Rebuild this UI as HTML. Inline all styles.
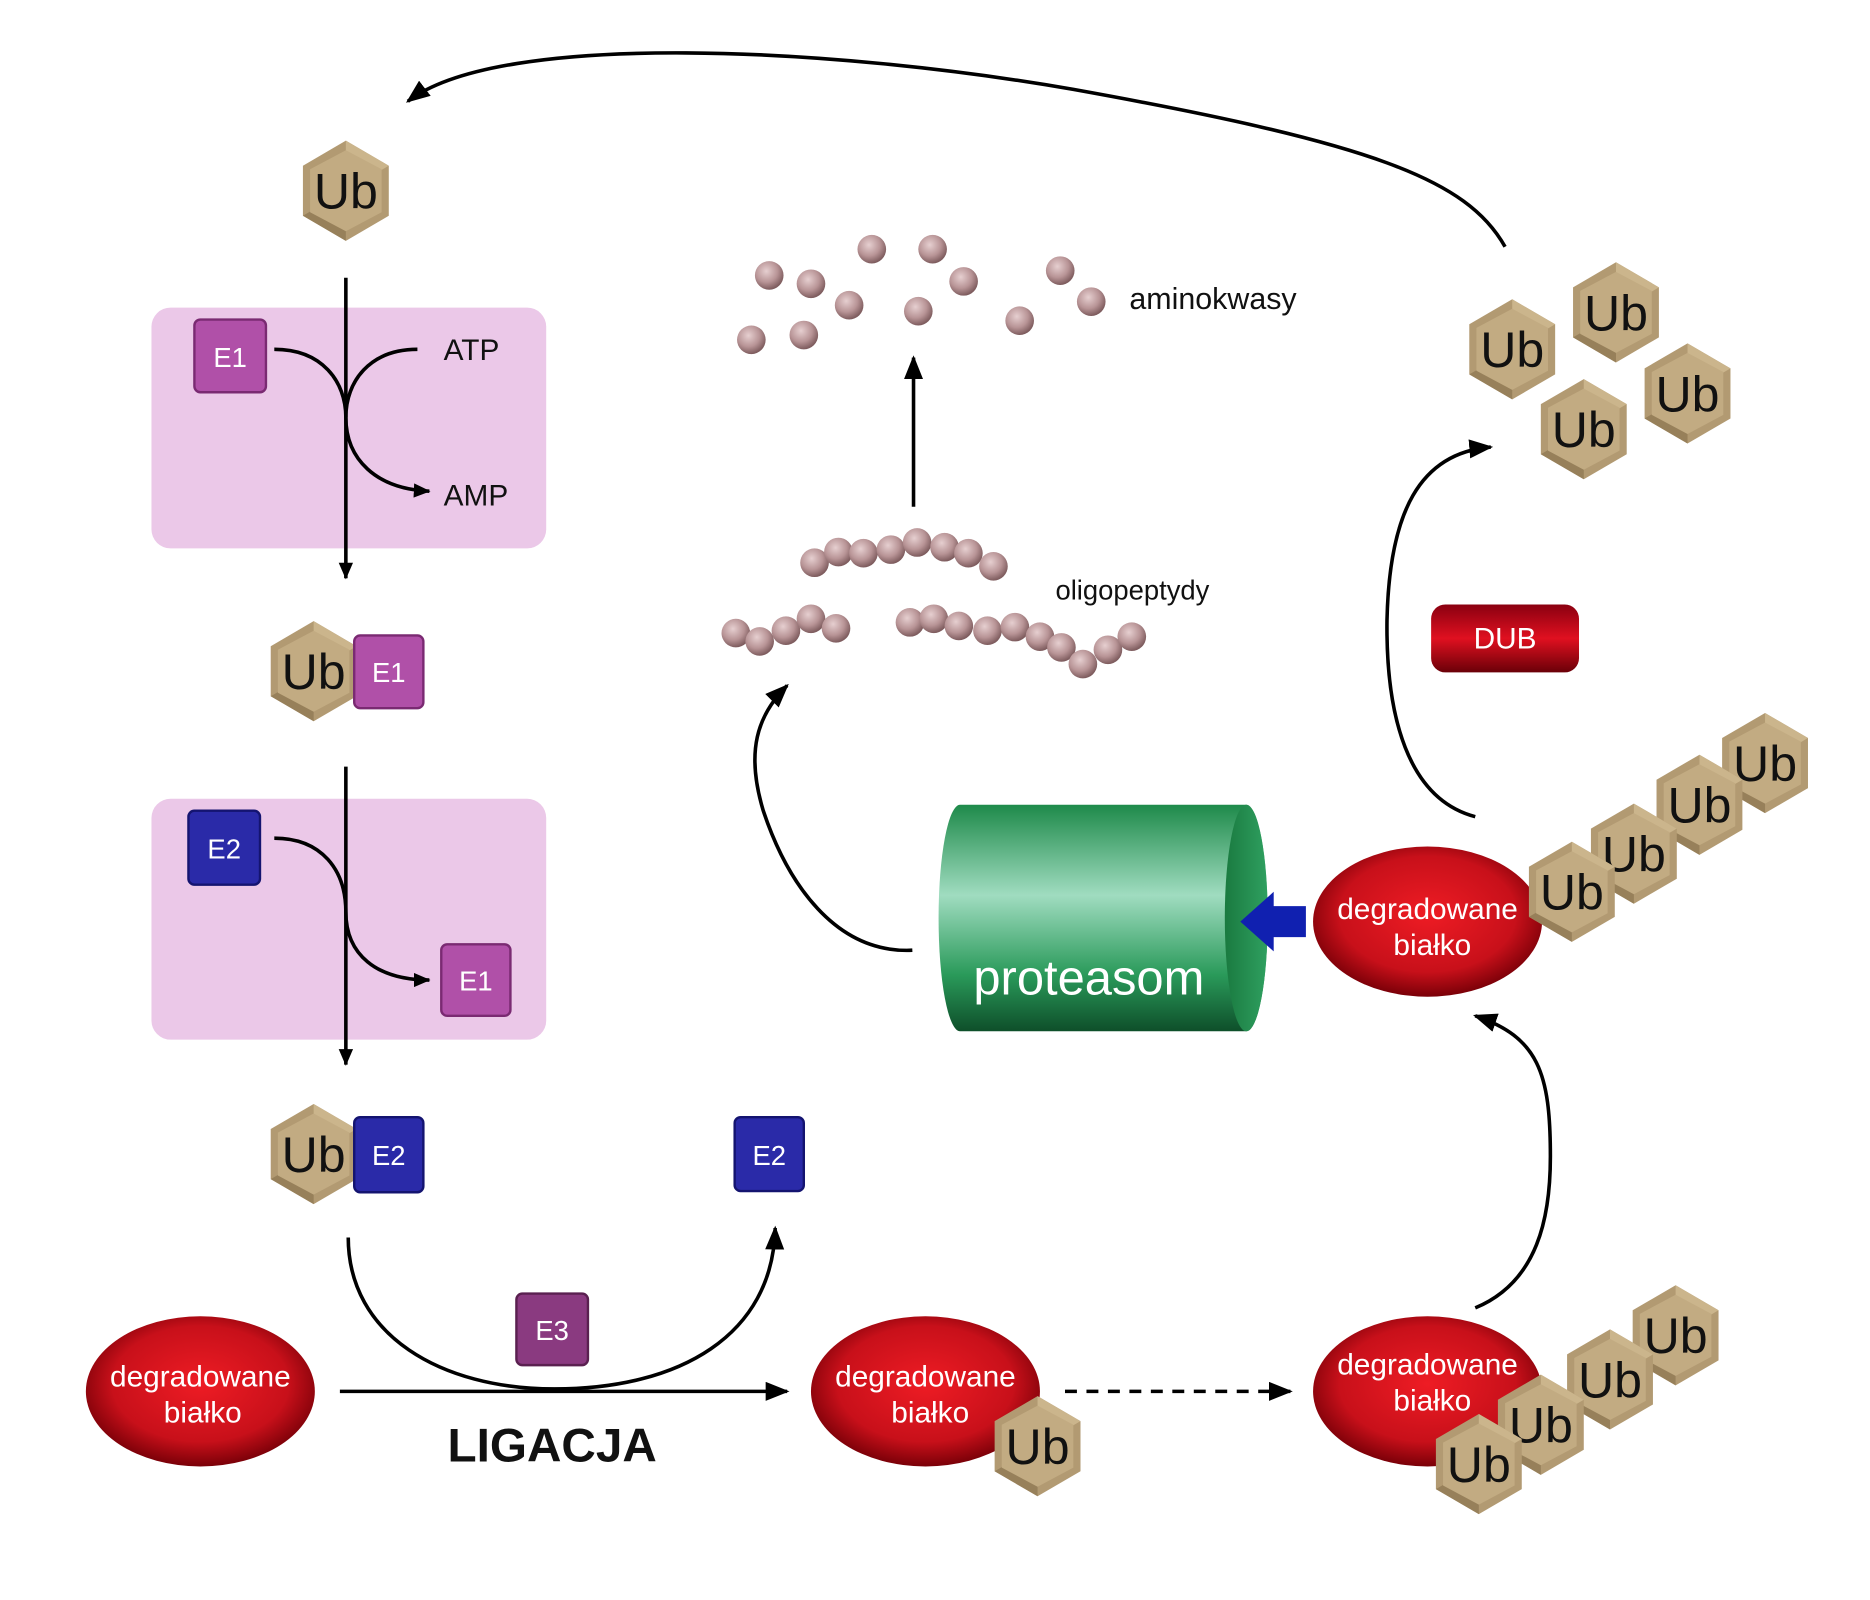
<!DOCTYPE html>
<html><head><meta charset="utf-8"><style>
html,body{margin:0;padding:0;background:#fff;}
svg{display:block;}
text{font-family:"Liberation Sans",sans-serif;}
</style></head><body>
<svg width="1870" height="1600" viewBox="0 0 1568 1342" preserveAspectRatio="none" xmlns="http://www.w3.org/2000/svg">
<defs>
<marker id="ah" markerWidth="14" markerHeight="12" refX="13" refY="6" orient="auto" markerUnits="userSpaceOnUse" viewBox="0 0 14 12">
<path d="M0,0 L14,6 L0,12 z" fill="#000"/></marker>
<marker id="ah2" markerWidth="20" markerHeight="16" refX="18" refY="8" orient="auto" markerUnits="userSpaceOnUse" viewBox="0 0 20 16">
<path d="M0,0 L20,8 L0,16 z" fill="#000"/></marker>
<radialGradient id="red" cx="50%" cy="45%" r="55%"><stop offset="0" stop-color="#ee1c24"/><stop offset="0.7" stop-color="#c8101a"/><stop offset="1" stop-color="#7a0008"/></radialGradient>
<radialGradient id="bead" cx="40%" cy="35%" r="65%"><stop offset="0" stop-color="#e6cfd0"/><stop offset="0.6" stop-color="#b89496"/><stop offset="1" stop-color="#7e5c5e"/></radialGradient>
<linearGradient id="cyl" x1="0" y1="0" x2="0" y2="1"><stop offset="0" stop-color="#1e8a4a"/><stop offset="0.4" stop-color="#a0dcc0"/><stop offset="0.75" stop-color="#2a9a5a"/><stop offset="1" stop-color="#0e4f2a"/></linearGradient>
<linearGradient id="cap" x1="0" y1="0" x2="1" y2="0"><stop offset="0" stop-color="#1a7a40"/><stop offset="1" stop-color="#2fa060"/></linearGradient>
<linearGradient id="dub" x1="0" y1="0" x2="0" y2="1"><stop offset="0" stop-color="#8a0010"/><stop offset="0.5" stop-color="#e01020"/><stop offset="1" stop-color="#6a0008"/></linearGradient>
<g id="ub">
<polygon points="0,-42 36,-21 36,21 0,42 -36,21 -36,-21" fill="#b29a72"/>
<polygon points="0,-42 36,-21 0,0" fill="#cbb58c"/>
<polygon points="-36,21 0,42 0,0" fill="#97805a"/>
<polygon points="-30,-18 0,-34 30,-18 30,18 0,34 -30,18" fill="#c2ab82"/>
<text x="0" y="15" font-size="42" text-anchor="middle" fill="#111">Ub</text>
</g>
</defs>

<rect x="127" y="258" width="331" height="202" rx="16" fill="#ebc8e8"/>
<rect x="127" y="670" width="331" height="202" rx="16" fill="#ebc8e8"/>

<use href="#ub" x="290" y="160"/>

<rect x="163" y="268" width="60" height="61" rx="5" fill="#b050a8" stroke="#7a2a72" stroke-width="2"/>
<text x="193" y="308" font-size="23" fill="#fff" text-anchor="middle">E1</text>
<line x1="290" y1="233" x2="290" y2="485" stroke="#000" stroke-width="3" marker-end="url(#ah)"/>
<path d="M230,293 C270,293 290,320 290,350" fill="none" stroke="#000" stroke-width="3"/>
<path d="M350,293 C310,293 290,320 290,350 C290,385 315,410 360,412" fill="none" stroke="#000" stroke-width="3" marker-end="url(#ah)"/>
<text x="372" y="302" font-size="25" fill="#111">ATP</text>
<text x="372" y="424" font-size="25" fill="#111">AMP</text>

<use href="#ub" x="263" y="563"/>
<rect x="297" y="533" width="58" height="61" rx="5" fill="#b050a8" stroke="#7a2a72" stroke-width="2"/>
<text x="326" y="572" font-size="23" fill="#fff" text-anchor="middle">E1</text>

<rect x="158" y="680" width="60" height="62" rx="5" fill="#2a2aa8" stroke="#141470" stroke-width="2"/>
<text x="188" y="720" font-size="23" fill="#fff" text-anchor="middle">E2</text>
<line x1="290" y1="643" x2="290" y2="893" stroke="#000" stroke-width="3" marker-end="url(#ah)"/>
<path d="M230,703 C270,703 290,730 290,765 C290,800 315,822 360,822" fill="none" stroke="#000" stroke-width="3" marker-end="url(#ah)"/>
<rect x="370" y="792" width="58" height="60" rx="5" fill="#b050a8" stroke="#7a2a72" stroke-width="2"/>
<text x="399" y="831" font-size="23" fill="#fff" text-anchor="middle">E1</text>

<use href="#ub" x="263" y="968"/>
<rect x="297" y="937" width="58" height="63" rx="5" fill="#2a2aa8" stroke="#141470" stroke-width="2"/>
<text x="326" y="977" font-size="23" fill="#fff" text-anchor="middle">E2</text>
<rect x="616" y="937" width="58" height="62" rx="5" fill="#2a2aa8" stroke="#141470" stroke-width="2"/>
<text x="645" y="977" font-size="23" fill="#fff" text-anchor="middle">E2</text>

<path d="M292,1038 C292,1120 370,1165 465,1165 C570,1165 648,1120 650,1030" fill="none" stroke="#000" stroke-width="3" marker-end="url(#ah2)"/>
<rect x="433" y="1085" width="60" height="60" rx="5" fill="#8a3a80" stroke="#5a2050" stroke-width="2"/>
<text x="463" y="1124" font-size="23" fill="#fff" text-anchor="middle">E3</text>

<line x1="285" y1="1167" x2="660" y2="1167" stroke="#000" stroke-width="3" marker-end="url(#ah2)"/>
<text x="463" y="1226" font-size="40" font-weight="bold" text-anchor="middle" fill="#111">LIGACJA</text>

<ellipse cx="168" cy="1167" rx="96" ry="63" fill="url(#red)"/>
<text x="168" y="1163" font-size="25" fill="#fff" text-anchor="middle">degradowane</text>
<text x="170" y="1193" font-size="25" fill="#fff" text-anchor="middle">białko</text>

<ellipse cx="776" cy="1167" rx="96" ry="63" fill="url(#red)"/>
<text x="776" y="1163" font-size="25" fill="#fff" text-anchor="middle">degradowane</text>
<text x="780" y="1193" font-size="25" fill="#fff" text-anchor="middle">białko</text>
<use href="#ub" x="870" y="1213"/>

<line x1="893" y1="1167" x2="1082" y2="1167" stroke="#000" stroke-width="3" stroke-dasharray="10,8" marker-end="url(#ah2)"/>

<ellipse cx="1197" cy="1167" rx="96" ry="63" fill="url(#red)"/>
<text x="1197" y="1153" font-size="25" fill="#fff" text-anchor="middle">degradowane</text>
<text x="1201" y="1183" font-size="25" fill="#fff" text-anchor="middle">białko</text>
<use href="#ub" x="1405" y="1120"/>
<use href="#ub" x="1350" y="1157"/>
<use href="#ub" x="1292" y="1195"/>
<use href="#ub" x="1240" y="1228"/>

<path d="M1237,1097 C1290,1075 1300,1020 1300,970 C1300,900 1290,870 1237,852" fill="none" stroke="#000" stroke-width="3" marker-end="url(#ah2)"/>

<path d="M805,675 L1045,675 A18,95 0 0 1 1045,865 L805,865 A18,95 0 0 1 805,675 z" fill="url(#cyl)"/>
<ellipse cx="1045" cy="770" rx="18" ry="95" fill="url(#cap)"/>
<text x="913" y="834" font-size="41" fill="#fff" text-anchor="middle">proteasom</text>
<polygon points="1040,773 1068,748 1068,760 1095,760 1095,786 1068,786 1068,798" fill="#1020b0"/>

<ellipse cx="1197" cy="773" rx="96" ry="63" fill="url(#red)"/>
<text x="1197" y="771" font-size="25" fill="#fff" text-anchor="middle">degradowane</text>
<text x="1201" y="801" font-size="25" fill="#fff" text-anchor="middle">białko</text>
<use href="#ub" x="1480" y="640"/>
<use href="#ub" x="1425" y="675"/>
<use href="#ub" x="1370" y="716"/>
<use href="#ub" x="1318" y="748"/>

<path d="M765,797 C700,800 660,740 640,680 C625,630 635,600 660,575" fill="none" stroke="#000" stroke-width="3" marker-end="url(#ah2)"/>

<line x1="766" y1="425" x2="766" y2="300" stroke="#000" stroke-width="3" marker-end="url(#ah2)"/>

<g fill="url(#bead)">
<circle cx="645" cy="231" r="12"/><circle cx="680" cy="238" r="12"/><circle cx="731" cy="209" r="12"/><circle cx="782" cy="209" r="12"/><circle cx="808" cy="236" r="12"/><circle cx="712" cy="256" r="12"/><circle cx="770" cy="261" r="12"/><circle cx="630" cy="285" r="12"/><circle cx="674" cy="281" r="12"/><circle cx="855" cy="269" r="12"/><circle cx="889" cy="227" r="12"/><circle cx="915" cy="253" r="12"/>
<circle cx="683" cy="472" r="12"/><circle cx="703" cy="463" r="12"/><circle cx="724" cy="464" r="12"/><circle cx="747" cy="461" r="12"/><circle cx="769" cy="455" r="12"/><circle cx="792" cy="459" r="12"/><circle cx="812" cy="464" r="12"/><circle cx="833" cy="475" r="12"/>
<circle cx="617" cy="531" r="12"/><circle cx="637" cy="538" r="12"/><circle cx="659" cy="529" r="12"/><circle cx="680" cy="519" r="12"/><circle cx="701" cy="527" r="12"/>
<circle cx="763" cy="522" r="12"/><circle cx="783" cy="519" r="12"/><circle cx="804" cy="525" r="12"/><circle cx="828" cy="529" r="12"/><circle cx="851" cy="526" r="12"/><circle cx="872" cy="534" r="12"/><circle cx="890" cy="543" r="12"/><circle cx="908" cy="557" r="12"/><circle cx="929" cy="545" r="12"/><circle cx="949" cy="534" r="12"/>
</g>
<text x="947" y="259" font-size="25.5" fill="#111">aminokwasy</text>
<text x="885" y="503" font-size="23" fill="#111">oligopeptydy</text>

<rect x="1200" y="507" width="124" height="57" rx="12" fill="url(#dub)"/>
<text x="1262" y="544" font-size="25" fill="#fff" text-anchor="middle">DUB</text>

<path d="M1237,685 C1180,670 1162,600 1163,520 C1165,430 1190,380 1250,375" fill="none" stroke="#000" stroke-width="3" marker-end="url(#ah2)"/>

<use href="#ub" x="1268" y="293"/>
<use href="#ub" x="1355" y="262"/>
<use href="#ub" x="1415" y="330"/>
<use href="#ub" x="1328" y="360"/>

<path d="M1262,207 C1230,150 1150,120 900,75 C700,40 420,25 342,85" fill="none" stroke="#000" stroke-width="3" marker-end="url(#ah2)"/>
</svg>
</body></html>
